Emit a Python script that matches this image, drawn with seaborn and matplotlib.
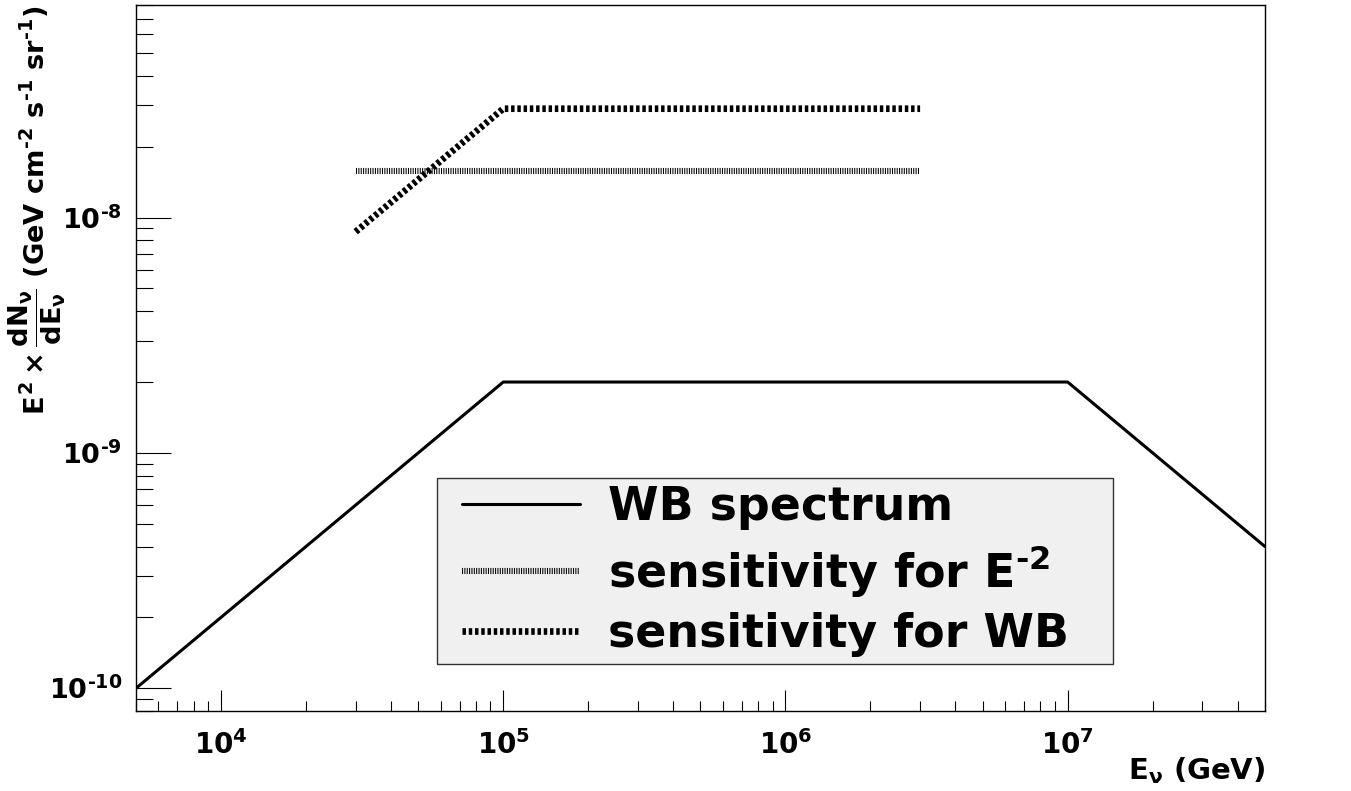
import matplotlib
matplotlib.use('Agg')
import matplotlib.pyplot as plt
import numpy as np
import seaborn as sns
from matplotlib.lines import Line2D
from matplotlib.legend_handler import HandlerLine2D
from matplotlib.ticker import LogLocator, FuncFormatter, NullFormatter

# energies in GeV, fluxes as E^2 dN/dE in GeV cm^-2 s^-1 sr^-1
wb_energy = [5e3, 1e5, 1e7, 5e7]
wb_flux = [1.0e-10, 2.0e-9, 2.0e-9, 4.0e-10]

sens_e2_energy = [3e4, 3e6]
sens_e2_flux = [1.58e-8, 1.58e-8]

sens_wb_energy = [3e4, 1e5, 3e6]
sens_wb_flux = [8.7e-9, 2.9e-8, 2.9e-8]

series_labels = ['WB spectrum', r'sensitivity for E$^{\text{-}2}$', 'sensitivity for WB']

sns.set_theme(style='white')
plt.rcParams['font.family'] = ['DejaVu Sans']
plt.rcParams['font.weight'] = 'bold'
plt.rcParams['axes.labelweight'] = 'bold'
plt.rcParams['mathtext.fontset'] = 'custom'
for k in ['rm', 'it', 'bf', 'sf']:
    plt.rcParams['mathtext.' + k] = 'DejaVu Sans:bold'
plt.rcParams['lines.scale_dashes'] = False
plt.rcParams['axes.edgecolor'] = 'black'
plt.rcParams['axes.linewidth'] = 1.0
for k in ['text.color', 'axes.labelcolor', 'xtick.color', 'ytick.color']:
    plt.rcParams[k] = 'black'


def pow10_label(v, pos):
    e = int(round(np.log10(v)))
    return r'$10^{%s}$' % str(e).replace('-', r'\text{-}')


fig, ax = plt.subplots(figsize=(13.51, 7.91), dpi=100)
fig.subplots_adjust(left=0.1007, right=0.9363, bottom=0.1011, top=0.9937)

sns.lineplot(x=wb_energy, y=wb_flux, ax=ax, color='black', linewidth=2.2,
             label=series_labels[0])
sns.lineplot(x=sens_e2_energy, y=sens_e2_flux, ax=ax, color='black', linewidth=4.4,
             linestyle=(0, (0.75, 0.95)), dash_capstyle='butt', label=series_labels[1])
sns.lineplot(x=sens_wb_energy, y=sens_wb_flux, ax=ax, color='black', linewidth=4.8,
             linestyle=(0, (2.5, 2.0)), dash_capstyle='butt', label=series_labels[2])

ax.set_xscale('log')
ax.set_yscale('log')
ax.set_xlim(5e3, 5e7)
ax.set_ylim(8e-11, 8e-8)

for axis in (ax.xaxis, ax.yaxis):
    axis.set_major_locator(LogLocator(base=10, numticks=10))
    axis.set_minor_locator(LogLocator(base=10, subs=np.arange(2, 10), numticks=20))
    axis.set_major_formatter(FuncFormatter(pow10_label))
    axis.set_minor_formatter(NullFormatter())

ax.tick_params(which='both', direction='in', top=False, right=False,
               bottom=True, left=True, color='black', width=0.8)
ax.tick_params(axis='x', which='major', length=15, pad=14, labelsize=20)
ax.tick_params(axis='x', which='minor', length=7.5)
ax.tick_params(axis='y', which='major', length=25, pad=10, labelsize=19.5)
ax.tick_params(axis='y', which='minor', length=12.5)

ax.set_xlabel(r'E$_{\nu}$ (GeV)', fontsize=21, loc='right')
ax.xaxis.set_label_coords(1.0, -0.063)
ax.set_ylabel(r'$E^{2}\times\dfrac{dN_{\nu}}{dE_{\nu}}$ (GeV cm$^{\text{-}2}$ s$^{\text{-}1}$ sr$^{\text{-}1}$)',
              fontsize=19.6, loc='top')
ax.yaxis.set_label_coords(-0.06, 1.0)

leg = ax.legend(loc='lower left', bbox_to_anchor=(0.2666, 0.0666, 0.5988, 0.262),
                mode='expand', borderaxespad=0, fontsize=33, frameon=True,
                fancybox=False, edgecolor='#333333', facecolor='#f0f0f0',
                framealpha=1, handlelength=2.95, handletextpad=0.61,
                labelspacing=0.28, borderpad=0.16,
                handler_map={Line2D: HandlerLine2D(xpad=0.39)})
leg.get_frame().set_linewidth(1.0)

plt.savefig('out.png', dpi=100)
